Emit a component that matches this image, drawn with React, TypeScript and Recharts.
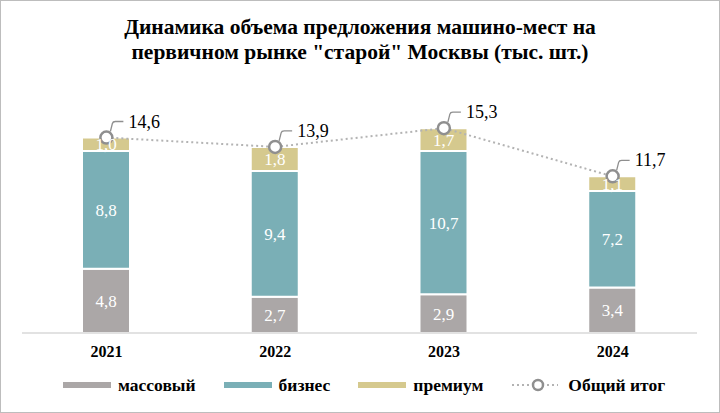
import { ComposedChart, Bar, Line, XAxis, YAxis, LabelList } from "recharts";

const years = ["2021", "2022", "2023", "2024"];
const massValues = [4.8, 2.7, 2.9, 3.4];
const businessValues = [8.8, 9.4, 10.7, 7.2];
const premiumValues = [1.0, 1.8, 1.7, 1.1];
const totalValues = [14.6, 13.9, 15.3, 11.7];

const data = years.map((year, i) => ({
    year,
    mass: massValues[i],
    business: businessValues[i],
    premium: premiumValues[i],
    total: totalValues[i],
}));

const colors = {
    mass: "#aba7a7",
    business: "#7aafb6",
    premium: "#d5c98e",
    line: "#b3b3b3",
    dot: "#8f8f8f",
};

const serif = "'Liberation Serif', 'Times New Roman', serif";

const fmt = (v: any) => Number(v).toFixed(1).replace(".", ",");

const YearTick = (props: any) => {
    const { x, y, payload } = props;
    return (
        <text x={x} y={y + 10} textAnchor="middle" dominantBaseline="central"
            fontFamily={serif} fontWeight="bold" fontSize={16} fill="#000">
            {payload.value}
        </text>
    );
};

const TotalDot = (props: any) => {
    const { cx, cy, index } = props;
    return <circle key={`dot-${index}`} cx={cx} cy={cy} r={6} fill="#fff" stroke={colors.dot} strokeWidth={2.5} />;
};

const TotalLabel = (props: any) => {
    const { x, y, value } = props;
    return (
        <g>
            <path
                d={`M${x + 4},${y - 6} L${x + 6},${y - 14} Q${x + 6.5},${y - 16} ${x + 9},${y - 16} L${x + 17},${y - 16}`}
                stroke={colors.dot} strokeWidth={1.3} fill="none"
            />
            <text x={x + 22} y={y - 16} dominantBaseline="central"
                fontFamily={serif} fontSize={18} fill="#000">
                {fmt(value)}
            </text>
        </g>
    );
};

const legendItems = [
    { name: "массовый", color: colors.mass },
    { name: "бизнес", color: colors.business },
    { name: "премиум", color: colors.premium },
];

export default function App() {
    return (
        <div style={{ position: "absolute", left: 0, top: 0, width: 720, height: 413, background: "#fff", fontFamily: serif }}>
            <div style={{ position: "absolute", top: 15, left: 0, width: 720, textAlign: "center", fontWeight: "bold", fontSize: 21.5, lineHeight: "25px", color: "#000" }}>
                Динамика объема предложения машино-мест на
                <br />
                первичном рынке "старой" Москвы (тыс. шт.)
            </div>

            <div style={{ position: "absolute", left: 0, top: 0 }}>
                <ComposedChart
                    width={720}
                    height={413}
                    data={data}
                    margin={{ top: 92, right: 23, left: 22, bottom: 50 }}
                >
                    <XAxis dataKey="year" axisLine={{ stroke: "#d9d9d9", strokeWidth: 1.5 }} tickLine={false}
                        tick={<YearTick />} height={30} />
                    <YAxis hide domain={[0, 18]} />
                    <Bar dataKey="mass" stackId="a" fill={colors.mass} barSize={48} stroke="#fff" strokeWidth={2} isAnimationActive={false}>
                        <LabelList dataKey="mass" position="center" formatter={fmt} fill="#fff" fontSize={17} fontFamily={serif} />
                    </Bar>
                    <Bar dataKey="business" stackId="a" fill={colors.business} barSize={48} stroke="#fff" strokeWidth={2} isAnimationActive={false}>
                        <LabelList dataKey="business" position="center" formatter={fmt} fill="#fff" fontSize={17} fontFamily={serif} />
                    </Bar>
                    <Bar dataKey="premium" stackId="a" fill={colors.premium} barSize={48} stroke="#fff" strokeWidth={2} isAnimationActive={false}>
                        <LabelList dataKey="premium" position="center" formatter={fmt} fill="#fff" fontSize={17} fontFamily={serif} />
                    </Bar>
                    <Line
                        dataKey="total"
                        stroke={colors.line}
                        strokeWidth={2}
                        strokeDasharray="2 3"
                        dot={<TotalDot />}
                        activeDot={false}
                        isAnimationActive={false}
                    >
                        <LabelList dataKey="total" content={<TotalLabel />} />
                    </Line>
                </ComposedChart>
            </div>

            {/* Legend */}
            <div style={{ position: "absolute", top: 376, left: 63, display: "flex", alignItems: "center", height: 18 }}>
                {legendItems.map((item) => (
                    <div key={item.name} style={{ display: "flex", alignItems: "center", marginRight: 28 }}>
                        <div style={{ width: 48, height: 6, background: item.color, marginRight: 7 }} />
                        <span style={{ fontWeight: "bold", fontSize: 17.5, color: "#000" }}>{item.name}</span>
                    </div>
                ))}
                <div style={{ display: "flex", alignItems: "center" }}>
                    <svg width={48} height={14} style={{ marginRight: 9 }}>
                        <line x1={1} y1={7} x2={47} y2={7} stroke={colors.line} strokeWidth={2} strokeDasharray="2 3" />
                        <circle cx={27} cy={7} r={5} fill="#fff" stroke={colors.dot} strokeWidth={2.5} />
                    </svg>
                    <span style={{ fontWeight: "bold", fontSize: 17.5, color: "#000" }}>Общий итог</span>
                </div>
            </div>

            <div style={{ position: "absolute", left: 0, top: 0, width: 720, height: 413, boxSizing: "border-box", border: "1px solid #bdbdbd", pointerEvents: "none" }} />
        </div>
    );
}
